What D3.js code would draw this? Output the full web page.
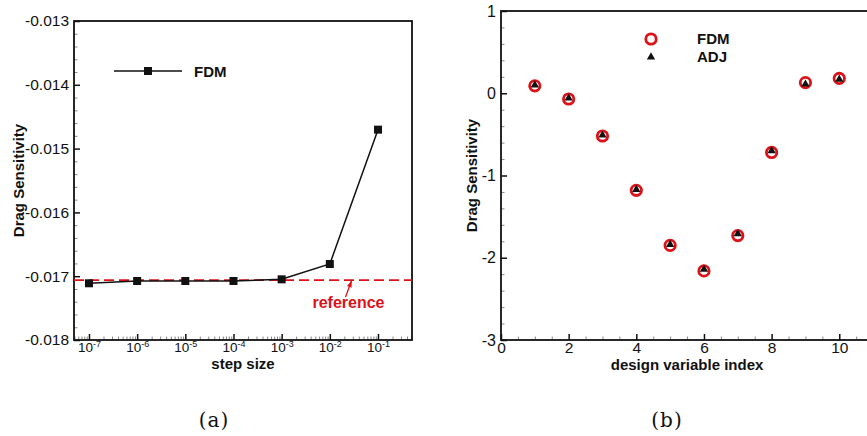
<!DOCTYPE html>
<html>
<head>
<meta charset="utf-8">
<script src="https://cdn.jsdelivr.net/npm/d3@7/dist/d3.min.js"></script>
<style>
  html, body { margin: 0; padding: 0; background: #fff; }
  svg { display: block; }
  text { font-family: "Liberation Sans", Arial, Helvetica, sans-serif; fill: #111; }
  .caption { font-family: "DejaVu Serif", "Liberation Serif", serif; }
</style>
</head>
<body>
<svg id="chart" width="867" height="436"></svg>
<script>
// ---- Panel (a): step-size study of the finite-difference drag sensitivity ----
const stepSizes = [1e-7, 1e-6, 1e-5, 1e-4, 1e-3, 1e-2, 1e-1];
const fdmByStep = [-0.017111, -0.017075, -0.017075, -0.017075, -0.017049, -0.016809, -0.014703];
const referenceValue = -0.01706;
const stepTickExponents = [-7, -6, -5, -4, -3, -2, -1];
const sensTicksA = [-0.018, -0.017, -0.016, -0.015, -0.014, -0.013];
const sensTickLabelsA = ["-0.018", "-0.017", "-0.016", "-0.015", "-0.014", "-0.013"];

// ---- Panel (b): FDM vs adjoint sensitivity per design variable ----
const designIndex = [1, 2, 3, 4, 5, 6, 7, 8, 9, 10];
const fdmSens = [0.09, -0.07, -0.52, -1.18, -1.85, -2.16, -1.73, -0.72, 0.13, 0.18];
const adjSens = [0.10, -0.06, -0.51, -1.17, -1.84, -2.14, -1.71, -0.70, 0.11, 0.17];
const indexTicks = [0, 2, 4, 6, 8, 10];
const indexTickLabels = ["0", "2", "4", "6", "8", "10"];
const sensTicksB = [-3, -2, -1, 0, 1];
const sensTickLabelsB = ["-3", "-2", "-1", "0", "1"];

const RED = "#dc1218";
const INK = "#111";
const svg = d3.select("#chart");

function styleAxis(g, width, color) {
  g.select(".domain").remove();
  g.selectAll(".tick line").attr("stroke", color).attr("stroke-width", width);
}

// ================= Panel (a) =================
{
  const L = 74, R = 412, T = 21, B = 340;
  const x = d3.scaleLog().domain([Math.pow(10, -7.311), Math.pow(10, -0.294)]).range([L, R]);
  const y = d3.scaleLinear().domain([-0.018, -0.013]).range([B, T]);
  const g = svg.append("g");

  // minor ticks on x: 2..9 x 10^k inside the domain
  const [d0, d1] = x.domain();
  const minorX = [];
  for (let k = -8; k <= 0; k++) for (let m = 2; m <= 9; m++) {
    const v = m * Math.pow(10, k);
    if (v > d0 && v < d1) minorX.push(v);
  }
  g.append("g").attr("transform", `translate(0,${B})`)
    .call(d3.axisBottom(x).tickValues(minorX).tickSize(-3.5).tickFormat(""))
    .call(a => styleAxis(a, 1, "#888"));

  // major ticks on x with 10^n labels
  const xMajor = g.append("g").attr("transform", `translate(0,${B})`)
    .call(d3.axisBottom(x).tickValues(stepTickExponents.map(e => Math.pow(10, e)))
      .tickSize(-6).tickFormat(""))
    .call(a => styleAxis(a, 1.5, INK));
  xMajor.selectAll(".tick text").remove();
  xMajor.selectAll(".tick").append("text")
    .attr("y", 12).attr("text-anchor", "middle")
    .each(function(d, i) {
      const t = d3.select(this);
      t.append("tspan").style("font-size", "13.5px").text("10");
      t.append("tspan").style("font-size", "9px").attr("dy", -5).text(String(stepTickExponents[i]));
    });

  // minor ticks on y
  const minorY = d3.range(-0.018, -0.0129, 0.0002).filter(v => Math.abs(Math.round(v * 1000) - v * 1000) > 1e-6);
  g.append("g").attr("transform", `translate(${L},0)`)
    .call(d3.axisLeft(y).tickValues(minorY).tickSize(-3.5).tickFormat(""))
    .call(a => styleAxis(a, 1, "#888"));
  g.append("g").attr("transform", `translate(${L},0)`)
    .call(d3.axisLeft(y).tickValues(sensTicksA).tickSize(-6).tickPadding(5)
      .tickFormat((d, i) => sensTickLabelsA[i]))
    .call(a => styleAxis(a, 1.5, INK))
    .call(a => a.selectAll("text").style("font-size", "15.5px"));

  // frame
  g.append("rect").attr("x", L).attr("y", T).attr("width", R - L).attr("height", B - T)
    .attr("fill", "none").attr("stroke", INK).attr("stroke-width", 1.8);

  // reference value (dashed)
  g.append("line").attr("x1", L).attr("x2", R)
    .attr("y1", y(referenceValue)).attr("y2", y(referenceValue))
    .attr("stroke", RED).attr("stroke-width", 1.8).attr("stroke-dasharray", "10,5");

  // FDM line + square markers
  const pts = stepSizes.map((s, i) => [x(s), y(fdmByStep[i])]);
  g.append("path").attr("d", d3.line()(pts))
    .attr("fill", "none").attr("stroke", INK).attr("stroke-width", 1.5);
  g.selectAll("rect.mk").data(pts).join("rect").attr("class", "mk")
    .attr("x", d => d[0] - 4).attr("y", d => d[1] - 4)
    .attr("width", 8).attr("height", 8).attr("fill", INK);

  // annotation: "reference" with arrow to the dashed line
  const defs = svg.append("defs");
  defs.append("marker").attr("id", "arrowRed").attr("viewBox", "0 0 10 10")
    .attr("refX", 9).attr("refY", 5).attr("markerWidth", 9).attr("markerHeight", 7)
    .attr("markerUnits", "userSpaceOnUse").attr("orient", "auto")
    .append("path").attr("d", "M0,1.5 L10,5 L0,8.5 Z").attr("fill", RED);
  const ax = x(Math.pow(10, -1.55));
  g.append("line").attr("x1", ax - 6).attr("y1", y(referenceValue) + 17)
    .attr("x2", ax).attr("y2", y(referenceValue) + 1)
    .attr("stroke", RED).attr("stroke-width", 1.3).attr("marker-end", "url(#arrowRed)");
  g.append("text").attr("x", ax - 3).attr("y", y(referenceValue) + 28)
    .attr("text-anchor", "middle").style("font-size", "16px").attr("font-weight", "bold")
    .style("fill", RED).text("reference");

  // legend
  g.append("line").attr("x1", 114).attr("x2", 182).attr("y1", 71).attr("y2", 71)
    .attr("stroke", INK).attr("stroke-width", 1.5);
  g.append("rect").attr("x", 144).attr("y", 67).attr("width", 8).attr("height", 8).attr("fill", INK);
  g.append("text").attr("x", 194).attr("y", 76.5).style("font-size", "15px")
    .attr("font-weight", "bold").text("FDM");

  // axis titles
  g.append("text").attr("x", (L + R) / 2).attr("y", 369).attr("text-anchor", "middle")
    .style("font-size", "15px").attr("font-weight", "bold").text("step size");
  g.append("text").attr("transform", `translate(24,${(T + B) / 2}) rotate(-90)`)
    .attr("text-anchor", "middle").style("font-size", "15px").attr("font-weight", "bold")
    .text("Drag Sensitivity");

  g.append("text").attr("class", "caption").attr("x", 214).attr("y", 427)
    .attr("text-anchor", "middle").style("font-size", "20px").attr("letter-spacing", 1)
    .text("(a)");
}

// ================= Panel (b) =================
{
  const L = 501, T = 11, B = 340;
  const x = d3.scaleLinear().domain([0, 11]).range([L, 873.1]);
  const y = d3.scaleLinear().domain([-3, 1]).range([B, T]);
  const R = x(11);
  const g = svg.append("g");

  const minorX = d3.range(0.5, 11, 0.5).filter(v => v % 2 !== 0);
  g.append("g").attr("transform", `translate(0,${B})`)
    .call(d3.axisBottom(x).tickValues(minorX).tickSize(-3.5).tickFormat(""))
    .call(a => styleAxis(a, 1, "#888"));
  g.append("g").attr("transform", `translate(0,${B})`)
    .call(d3.axisBottom(x).tickValues(indexTicks).tickSize(-6).tickPadding(2)
      .tickFormat((d, i) => indexTickLabels[i]))
    .call(a => styleAxis(a, 1.5, INK))
    .call(a => a.selectAll("text").style("font-size", "15.5px"));

  const minorY = d3.range(-2.8, 1, 0.2).filter(v => Math.abs(v - Math.round(v)) > 1e-6);
  g.append("g").attr("transform", `translate(${L},0)`)
    .call(d3.axisLeft(y).tickValues(minorY).tickSize(-3.5).tickFormat(""))
    .call(a => styleAxis(a, 1, "#888"));
  g.append("g").attr("transform", `translate(${L},0)`)
    .call(d3.axisLeft(y).tickValues(sensTicksB).tickSize(-6).tickPadding(5)
      .tickFormat((d, i) => sensTickLabelsB[i]))
    .call(a => styleAxis(a, 1.5, INK))
    .call(a => a.selectAll("text").style("font-size", "16px"));

  g.append("rect").attr("x", L).attr("y", T).attr("width", R - L).attr("height", B - T)
    .attr("fill", "none").attr("stroke", INK).attr("stroke-width", 1.8);

  // FDM: open red circles
  g.selectAll("circle.fdm").data(designIndex).join("circle").attr("class", "fdm")
    .attr("cx", d => x(d)).attr("cy", (d, i) => y(fdmSens[i])).attr("r", 5.2)
    .attr("fill", "none").attr("stroke", RED).attr("stroke-width", 2.8);

  // ADJ: filled black triangles
  const tri = d3.symbol().type(d3.symbolTriangle).size(30);
  g.selectAll("path.adj").data(designIndex).join("path").attr("class", "adj")
    .attr("transform", (d, i) => `translate(${x(d)},${y(adjSens[i])})`)
    .attr("d", tri).attr("fill", INK);

  // legend
  g.append("circle").attr("cx", 651).attr("cy", 39).attr("r", 5.2)
    .attr("fill", "none").attr("stroke", RED).attr("stroke-width", 2.8);
  g.append("path").attr("transform", "translate(651,57)").attr("d", tri).attr("fill", INK);
  g.append("text").attr("x", 697).attr("y", 44).style("font-size", "15px")
    .attr("font-weight", "bold").text("FDM");
  g.append("text").attr("x", 697).attr("y", 62).style("font-size", "15px")
    .attr("font-weight", "bold").text("ADJ");

  g.append("text").attr("x", (L + R) / 2).attr("y", 370).attr("text-anchor", "middle")
    .style("font-size", "15px").attr("font-weight", "bold").text("design variable index");
  g.append("text").attr("transform", `translate(477,${(T + B) / 2}) rotate(-90)`)
    .attr("text-anchor", "middle").style("font-size", "15px").attr("font-weight", "bold")
    .text("Drag Sensitivity");

  g.append("text").attr("class", "caption").attr("x", 667).attr("y", 427)
    .attr("text-anchor", "middle").style("font-size", "20px").attr("letter-spacing", 1)
    .text("(b)");
}
</script>
</body>
</html>
